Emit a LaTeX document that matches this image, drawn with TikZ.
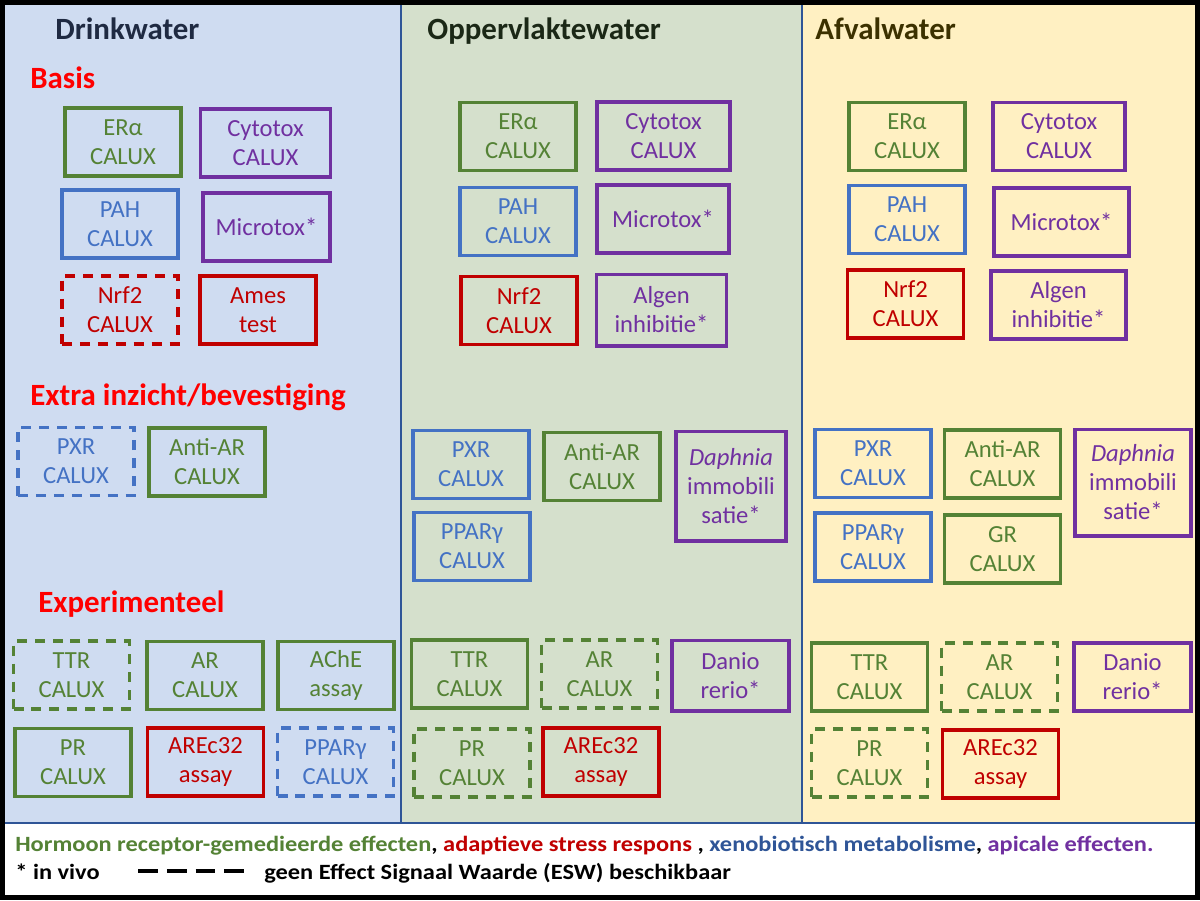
\documentclass[tikz,border=0pt]{standalone}
\usepackage{fontspec}
\setmainfont{Carlito}
\definecolor{hgreen}{HTML}{548235}
\definecolor{hpurple}{HTML}{7030A0}
\definecolor{hblue}{HTML}{4472C4}
\definecolor{hdblue}{HTML}{2F5597}
\definecolor{hred}{HTML}{C00000}
\definecolor{bgdrink}{HTML}{CFDCF1}
\definecolor{bgopp}{HTML}{D5E0CC}
\definecolor{bgafval}{HTML}{FFF0C2}
\newcommand{\boxfont}{\fontsize{14}{16.5}\selectfont}
\newcommand{\headfont}{\bfseries\fontsize{17.6}{21}\selectfont}
\newcommand{\legfont}{\bfseries\fontsize{12.4}{14}\selectfont}
\newcommand{\legtext}[1]{\scalebox{1.12}[1]{#1}}

\begin{document}
\begin{tikzpicture}[x=0.02cm, y=-0.02cm,
      box/.style = {shape=rectangle, draw, line width=2pt, align=center,
        inner sep=0pt, minimum width=2.32cm, minimum height=1.36cm,
        font=\boxfont},
      grn/.style = {box, draw=hgreen, text=hgreen},
      prp/.style = {box, draw=hpurple, text=hpurple},
      blu/.style = {box, draw=hblue, text=hblue},
      rd/.style = {box, draw=hred, text=hred},
      noesw/.style = {dash pattern=on 5.7pt off 4.5pt},
      colhead/.style = {anchor=base west, inner sep=0pt, font=\headfont},
      sechead/.style = {anchor=base west, inner sep=0pt, font=\headfont, text=red},
      legend/.style = {anchor=base west, inner sep=0pt, font=\legfont}]
  \useasboundingbox (0,0) rectangle (1200,900);
  % columns
  \fill[white] (0,0) rectangle (1200,900);
  \draw[hdblue, line width=0.8pt, fill=bgdrink] (4,4) rectangle (401,823);
  \draw[hdblue, line width=0.8pt, fill=bgopp] (401,4) rectangle (802,823);
  \draw[hdblue, line width=0.8pt, fill=bgafval] (802,4) rectangle (1196,823);
  \draw[black, line width=2.8pt] (2.5,2.5) rectangle (1197.5,897.5);

  \node[colhead, text={rgb,255:red,31;green,42;blue,66}] (hDrink) at (55,39) {Drinkwater};
  \node[colhead, text={rgb,255:red,27;green,40;blue,22}] (hOpp) at (427,39) {Oppervlaktewater};
  \node[colhead, text={rgb,255:red,60;green,49;blue,0}] (hAfval) at (815,39) {Afvalwater};

  \node[sechead] (sBasis) at (30,88) {Basis};
  \node[sechead] (sExtra) at (30,405) {Extra inzicht/bevestiging};
  \node[sechead] (sExp) at (38,612) {Experimenteel};

  % Drinkwater
  \node[grn] (erD) at (123,142) {ERα\\CALUX};
  \node[prp, minimum width=2.6cm] (cytD) at (265.5,143) {Cytotox\\CALUX};
  \node[blu] (pahD) at (120,224) {PAH\\CALUX};
  \node[prp, minimum width=2.55cm] (micD) at (266.5,227) {Microtox*};
  \node[rd, noesw] (nrfD) at (120,310) {Nrf2\\CALUX};
  \node[rd] (amesD) at (258,310) {Ames\\test};
  \node[blu, noesw] (pxrD) at (76,461.5) {PXR\\CALUX};
  \node[grn] (aarD) at (207,462) {Anti-AR\\CALUX};
  \node[grn, noesw] (ttrD) at (71.5,675) {TTR\\CALUX};
  \node[grn] (arD) at (205,675.5) {AR\\CALUX};
  \node[grn] (acheD) at (336,675.5) {AChE\\assay};
  \node[grn] (prD) at (73,762.5) {PR\\CALUX};
  \node[rd] (areD) at (205.5,762) {AREc32\\assay};
  \node[blu, noesw] (ppD) at (335.5,762) {PPARγ\\CALUX};

  % Oppervlaktewater
  \node[grn] (erO) at (518,136.5) {ERα\\CALUX};
  \node[prp, minimum width=2.67cm] (cytO) at (663.5,136) {Cytotox\\CALUX};
  \node[blu] (pahO) at (518,221.5) {PAH\\CALUX};
  \node[prp, minimum width=2.65cm] (micO) at (663,219) {Microtox*};
  \node[rd] (nrfO) at (519,310.5) {Nrf2\\CALUX};
  \node[prp, minimum width=2.6cm, minimum height=1.43cm] (algO) at (661.5,310) {Algen\\inhibitie*};
  \node[blu] (pxrO) at (471,464.5) {PXR\\CALUX};
  \node[grn] (aarO) at (602,466.5) {Anti-AR\\CALUX};
  \node[prp, minimum width=2.21cm, minimum height=2.19cm] (daphO) at (731,486) {\textit{Daphnia}\\immobili\\satie*};
  \node[blu] (ppO) at (472,546.5) {PPARγ\\CALUX};
  \node[grn] (ttrO) at (469.5,674) {TTR\\CALUX};
  \node[grn, noesw] (arO) at (599.5,674) {AR\\CALUX};
  \node[prp, minimum width=2.35cm, minimum height=1.41cm] (danO) at (730.5,675.5) {Danio\\rerio*};
  \node[grn, noesw] (prO) at (472,763) {PR\\CALUX};
  \node[rd] (areO) at (601,762) {AREc32\\assay};

  % Afvalwater
  \node[grn] (erA) at (907,136.5) {ERα\\CALUX};
  \node[prp, minimum width=2.65cm] (cytA) at (1059,136.5) {Cytotox\\CALUX};
  \node[blu] (pahA) at (907,219.5) {PAH\\CALUX};
  \node[prp, minimum width=2.71cm] (micA) at (1061.5,222) {Microtox*};
  \node[rd] (nrfA) at (905.5,304) {Nrf2\\CALUX};
  \node[prp, minimum width=2.71cm] (algA) at (1058.5,305) {Algen\\inhibitie*};
  \node[blu] (pxrA) at (873,463.5) {PXR\\CALUX};
  \node[grn] (aarA) at (1002.5,464) {Anti-AR\\CALUX};
  \node[prp, minimum width=2.33cm, minimum height=2.13cm] (daphA) at (1133,482.5) {\textit{Daphnia}\\immobili\\satie*};
  \node[blu] (ppA) at (873,547) {PPARγ\\CALUX};
  \node[grn] (grA) at (1002.5,549) {GR\\CALUX};
  \node[grn] (ttrA) at (869.5,677) {TTR\\CALUX};
  \node[grn, noesw] (arA) at (999.5,677) {AR\\CALUX};
  \node[prp, minimum width=2.35cm] (danA) at (1132.5,677) {Danio\\rerio*};
  \node[grn, noesw] (prA) at (869.5,763) {PR\\CALUX};
  \node[rd] (areA) at (1000.5,764) {AREc32\\assay};

  % legend
  \node[legend] (leg1) at (15,851) {\legtext{{\color{hgreen}Hormoon receptor-gemedieerde effecten}, {\color{hred}adaptieve stress respons} , {\color{hdblue}xenobiotisch metabolisme}, {\color{hpurple}apicale effecten.}}};
  \node[legend] (leg2) at (15,879) {\legtext{* in vivo}};
  \coordinate (dashL) at (138,871);
  \coordinate (dashR) at (246,871);
  \draw[line width=2.3pt, dash pattern=on 11.3pt off 5.1pt] (dashL) -- (dashR);
  \node[legend] (leg3) at (264,879) {\legtext{geen Effect Signaal Waarde (ESW) beschikbaar}};
\end{tikzpicture}
\end{document}
